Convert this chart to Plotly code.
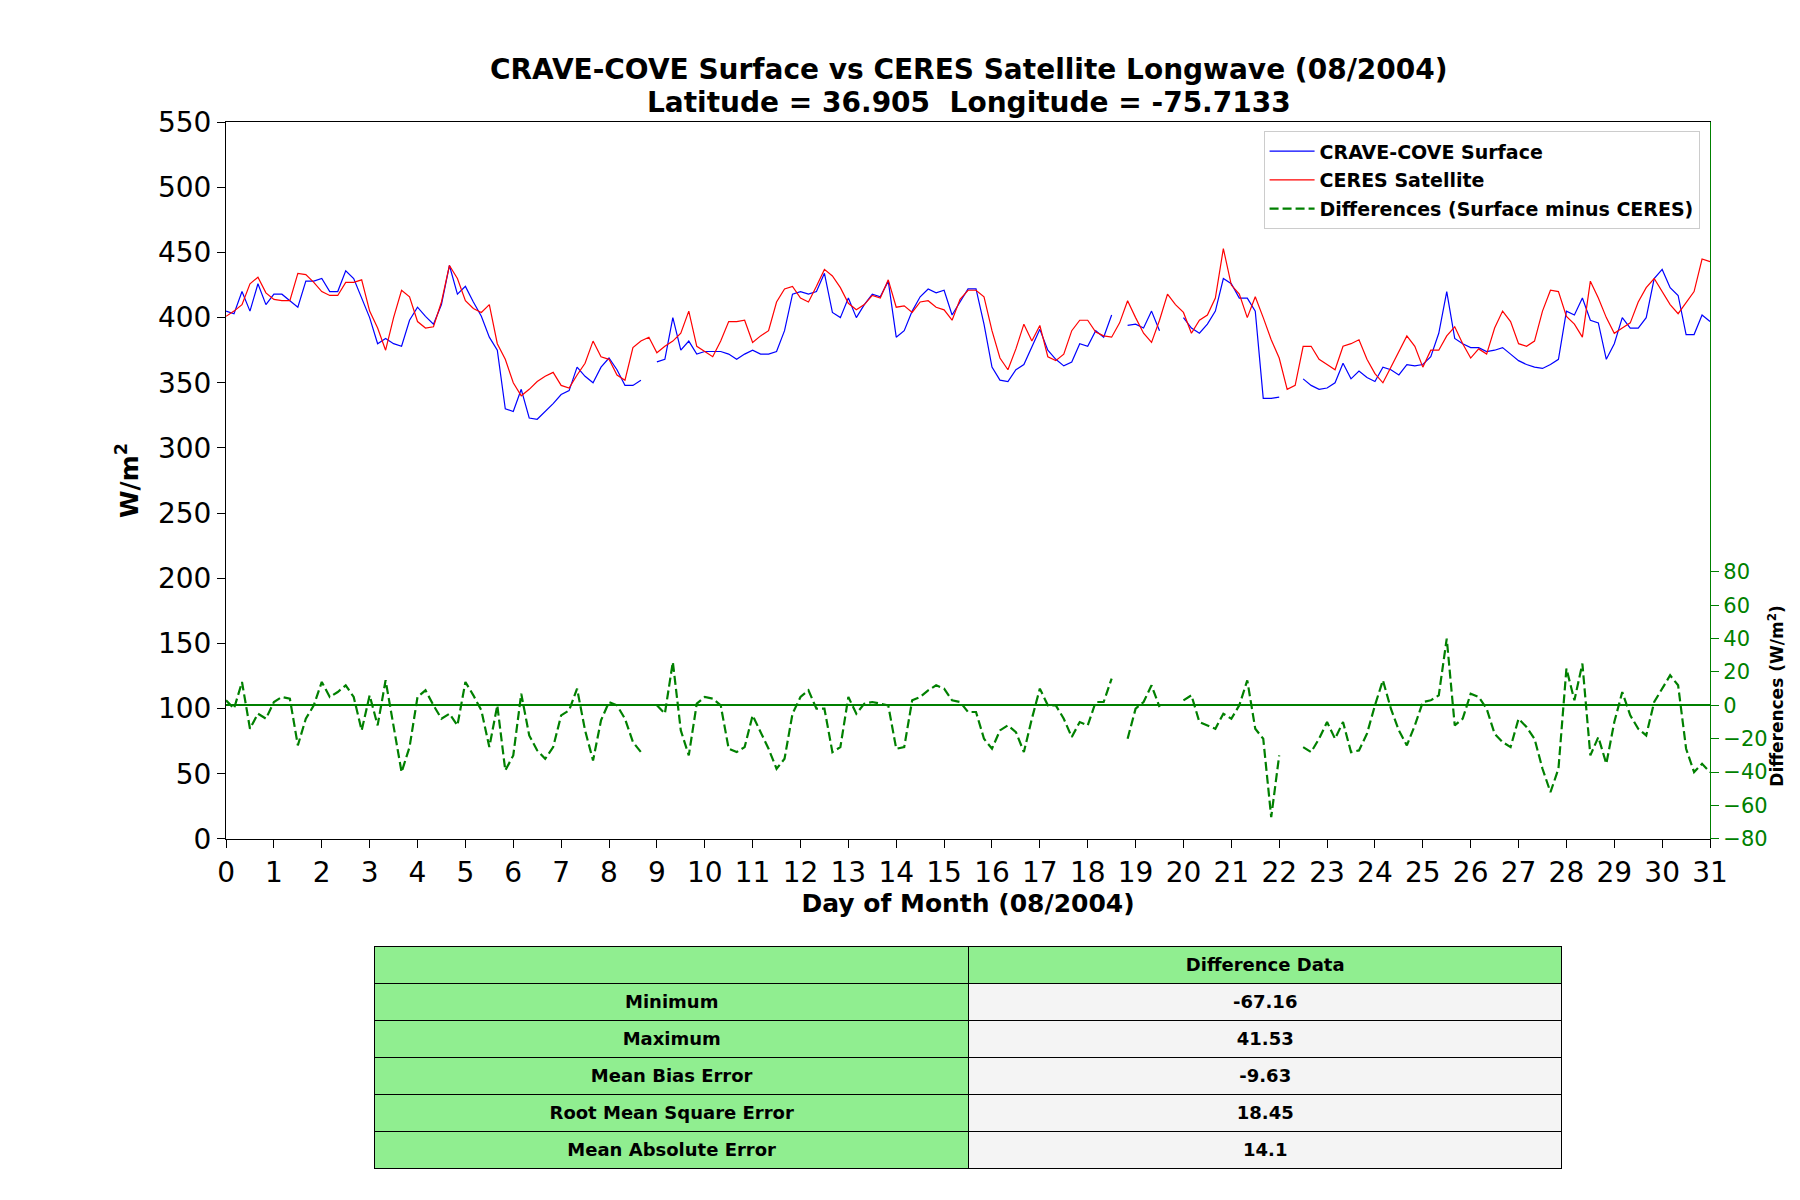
import plotly.graph_objects as go

# 4-hourly samples, day of month 0..31 (08/2004)
n_samples = 187
days = [i / 6 for i in range(n_samples)]

# CRAVE-COVE surface longwave (W/m^2), None = missing
surface = [
    405, 403, 420, 405, 426, 410,
    418, 418, 413, 408, 428, 428,
    430, 420, 420, 436, 430, 415,
    400, 380, 384, 380, 378, 398,
    408, 401, 395, 410, 440, 418,
    424, 412, 401, 385, 375, 330,
    328, 345, 323, 322, 328, 334,
    341, 344, 362, 355, 350, 362,
    369, 360, 348, 348, 352, None,
    366, 368, 400, 375, 382, 372,
    374, 374, 374, 372, 368, 372,
    375, 372, 372, 374, 390, 418,
    420, 418, 420, 434, 404, 400,
    415, 400, 410, 418, 416, 428,
    385, 390, 405, 416, 422, 419,
    421, 402, 412, 422, 422, 395,
    362, 352, 351, 360, 364, 378,
    391, 375, 368, 363, 366, 380,
    378, 390, 385, 402, None, 394,
    395, 392, 405, 390, None, None,
    400, 392, 388, 395, 405, 430,
    426, 415, 415, 405, 338, 338,
    339, None, None, 353, 348, 345,
    346, 350, 365, 353, 359, 354,
    351, 362, 360, 356, 364, 363,
    364, 370, 388, 420, 384, 380,
    377, 377, 374, 375, 377, 372,
    367, 364, 362, 361, 364, 368,
    405, 402, 415, 398, 396, 368,
    380, 400, 392, 392, 400, 430,
    437, 423, 417, 387, 387, 402,
    397,
]

# CERES satellite longwave (W/m^2)
ceres = [
    401, 405, 410, 426, 431, 419,
    414, 413, 413, 434, 433, 427,
    420, 417, 417, 427, 427, 429,
    405, 392, 375, 400, 421, 416,
    397, 392, 393, 412, 440, 430,
    413, 407, 404, 410, 380, 368,
    350, 340, 345, 351, 355, 358,
    348, 346, 356, 365, 382, 370,
    368, 356, 352, 377, 382, 385,
    373, 378, 382, 388, 405, 378,
    374, 370, 382, 397, 397, 398,
    381, 386, 390, 412, 422, 424,
    415, 412, 424, 437, 432, 423,
    411, 406, 410, 417, 415, 429,
    408, 409, 404, 412, 413, 408,
    406, 398, 414, 421, 421, 416,
    390, 369, 360, 376, 395, 382,
    394, 370, 367, 372, 390, 398,
    398, 389, 386, 385, 396, 413,
    400, 388, 381, 398, 418, 410,
    404, 388, 398, 402, 415, 453,
    425, 418, 400, 416, 400, 383,
    369, 345, 348, 378, 378, 368,
    364, 360, 378, 380, 383, 368,
    357, 350, 362, 374, 386, 378,
    362, 375, 375, 386, 393, 380,
    369, 376, 372, 392, 405, 397,
    380, 378, 382, 405, 421, 420,
    401, 395, 385, 428, 415, 400,
    388, 392, 396, 412, 423, 430,
    420, 410, 403, 412, 420, 445,
    443,
]

# Differences (surface minus CERES), right axis
differences = [
    3, -2, 14, -14, -5, -8,
    2, 5, 4, -24, -8, 0,
    14, 5, 8, 12, 5, -15,
    6, -12, 15, -12, -40, -25,
    5, 9, 0, -8, -5, -12,
    14, 6, -3, -25, 0, -39,
    -30, 7, -18, -27, -32, -25,
    -6, -3, 10, -15, -33, -9,
    2, 0, -8, -22, -28, None,
    0, -5, 26, -15, -30, 1,
    5, 4, 0, -26, -28, -25,
    -6, -16, -26, -38, -32, -5,
    5, 9, -2, -2, -28, -25,
    5, -5, 1, 2, 1, 0,
    -26, -25, 3, 5, 9, 12,
    10, 3, 2, -4, -4, -20,
    -26, -15, -12, -16, -28, -8,
    10, 0, 0, -8, -19, -10,
    -12, 2, 2, 16, None, -20,
    -2, 2, 12, -1, None, None,
    3, 6, -10, -12, -14, -5,
    -8, 0, 15, -14, -20, -67,
    -30, None, None, -25, -28, -20,
    -10, -20, -10, -28, -27, -17,
    0, 15, -2, -15, -24, -12,
    2, 3, 6, 40, -12, -8,
    7, 5, -2, -17, -22, -25,
    -8, -13, -20, -38, -52, -38,
    22, 3, 25, -30, -19, -35,
    -10, 8, -6, -14, -18, 2,
    10, 18, 12, -26, -40, -35,
    -40,
]

stat_names = ["Minimum", "Maximum", "Mean Bias Error",
              "Root Mean Square Error", "Mean Absolute Error"]
stat_values = ["-67.16", "41.53", "-9.63", "18.45", "14.1"]

FONT = "DejaVu Sans"
GREEN = "#008000"

fig = go.Figure()

fig.add_trace(go.Scatter(x=days, y=surface, mode="lines", name="<b>CRAVE-COVE Surface</b>",
                         legendgroup="a", line=dict(color="#0000ff", width=1.2)))
fig.add_trace(go.Scatter(x=days, y=ceres, mode="lines", name="<b>CERES Satellite</b>",
                         legendgroup="b", line=dict(color="#ff0000", width=1.2)))
fig.add_trace(go.Scatter(x=days, y=differences, mode="lines", yaxis="y2",
                         name="<b>Differences (Surface minus CERES)</b>", legendgroup="c",
                         line=dict(color=GREEN, width=2.2, dash="9px,4px")))

fig.add_trace(go.Table(
    domain=dict(x=[0.2019, 0.8714], y=[0.01, 0.2096]),
    columnwidth=[1, 1],
    header=dict(values=[" ", "<b>Difference Data</b>"],
                fill_color="#90ee90", line_color="black", line_width=1,
                align="center", height=30,
                font=dict(family=FONT, size=18, color="black")),
    cells=dict(values=[["<b>%s</b>" % s for s in stat_names],
                       ["<b>%s</b>" % v for v in stat_values]],
               fill_color=[["#90ee90"] * 5, ["#f4f4f4"] * 5],
               line_color="black", line_width=1,
               align="center", height=30,
               font=dict(family=FONT, size=18, color="black")),
))

fig.update_layout(
    width=1800, height=1200,
    margin=dict(l=0, r=0, t=0, b=0),
    paper_bgcolor="white", plot_bgcolor="white",
    font=dict(family=FONT, color="black"),
    showlegend=True,
    legend=dict(x=0.949, xanchor="right", y=0.908, yanchor="top",
                bgcolor="white", bordercolor="#cccccc", borderwidth=1,
                font=dict(family=FONT, size=19, color="black"),
                itemwidth=45, traceorder="grouped", tracegroupgap=1),
    xaxis=dict(domain=[0.1179, 0.9549], range=[0, 31], dtick=1, tick0=0,
               showgrid=False, zeroline=False, showline=True, linecolor="black",
               linewidth=1.2, mirror=True, ticks="outside", ticklen=8,
               tickcolor="black", tickfont=dict(size=28),
               title=dict(text="<b>Day of Month (08/2004)</b>", font=dict(size=25),
                          standoff=4)),
    yaxis=dict(domain=[0.3017, 0.9159], range=[0, 550], dtick=50, tick0=0,
               showgrid=False, zeroline=False, showline=True, linecolor="black",
               linewidth=1.2, ticks="outside", ticklen=8, tickcolor="black",
               tickfont=dict(size=28),
               title=dict(text="<b>W/m<sup>2</sup></b>", font=dict(size=25),
                          standoff=12)),
    yaxis2=dict(overlaying="y", side="right", anchor="x", range=[-80, 349.3],
                tickvals=[-80, -60, -40, -20, 0, 20, 40, 60, 80],
                showgrid=False, showline=True, linecolor=GREEN, linewidth=1.2,
                zeroline=True, zerolinecolor=GREEN, zerolinewidth=1.5,
                ticks="outside", ticklen=8, tickcolor=GREEN,
                tickfont=dict(size=21, color=GREEN)),
    annotations=[
        dict(text="<b>CRAVE-COVE Surface vs CERES Satellite Longwave (08/2004)</b>",
             xref="paper", yref="paper", x=0.537, y=0.961, xanchor="center",
             yanchor="middle", showarrow=False, font=dict(size=28)),
        dict(text="<b>Latitude = 36.905  Longitude = -75.7133</b>",
             xref="paper", yref="paper", x=0.537, y=0.9325, xanchor="center",
             yanchor="middle", showarrow=False, font=dict(size=28)),
        dict(text="<b>Differences (W/m<sup>2</sup>)</b>", textangle=-90,
             xref="paper", yref="paper", x=0.9924, y=0.424, xanchor="center",
             yanchor="middle", showarrow=False, font=dict(size=17)),
    ],
)

fig.write_html("out.html")
